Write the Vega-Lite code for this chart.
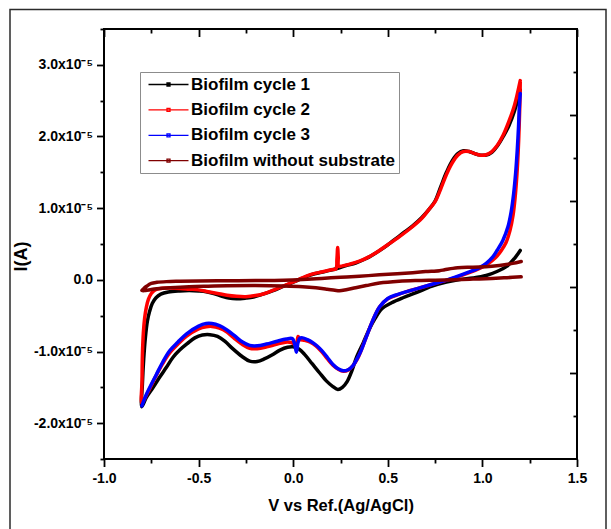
{
  "$schema": "https://vega.github.io/schema/vega-lite/v6.json",
  "width": 473,
  "height": 430,
  "autosize": {"type": "none"},
  "padding": {"left": 104, "top": 29, "right": 34, "bottom": 70},
  "background": "#ffffff",
  "data": {
    "values": [
      {"series": "Biofilm cycle 1", "V": 1.2, "I": 0.41e-5},
      {"series": "Biofilm cycle 1", "V": 1.17, "I": 0.30e-5},
      {"series": "Biofilm cycle 1", "V": 1.13, "I": 0.19e-5},
      {"series": "Biofilm cycle 1", "V": 1.08, "I": 0.12e-5},
      {"series": "Biofilm cycle 1", "V": 1.02, "I": 0.06e-5},
      {"series": "Biofilm cycle 1", "V": 0.95, "I": 0.025e-5},
      {"series": "Biofilm cycle 1", "V": 0.88, "I": 0.005e-5},
      {"series": "Biofilm cycle 1", "V": 0.81, "I": -0.03e-5},
      {"series": "Biofilm cycle 1", "V": 0.73, "I": -0.09e-5},
      {"series": "Biofilm cycle 1", "V": 0.65, "I": -0.18e-5},
      {"series": "Biofilm cycle 1", "V": 0.58, "I": -0.25e-5},
      {"series": "Biofilm cycle 1", "V": 0.52, "I": -0.32e-5},
      {"series": "Biofilm cycle 1", "V": 0.47, "I": -0.40e-5},
      {"series": "Biofilm cycle 1", "V": 0.43, "I": -0.55e-5},
      {"series": "Biofilm cycle 1", "V": 0.40, "I": -0.70e-5},
      {"series": "Biofilm cycle 1", "V": 0.37, "I": -0.88e-5},
      {"series": "Biofilm cycle 1", "V": 0.335, "I": -1.08e-5},
      {"series": "Biofilm cycle 1", "V": 0.31, "I": -1.27e-5},
      {"series": "Biofilm cycle 1", "V": 0.285, "I": -1.42e-5},
      {"series": "Biofilm cycle 1", "V": 0.26, "I": -1.50e-5},
      {"series": "Biofilm cycle 1", "V": 0.236, "I": -1.53e-5},
      {"series": "Biofilm cycle 1", "V": 0.21, "I": -1.49e-5},
      {"series": "Biofilm cycle 1", "V": 0.175, "I": -1.41e-5},
      {"series": "Biofilm cycle 1", "V": 0.14, "I": -1.30e-5},
      {"series": "Biofilm cycle 1", "V": 0.10, "I": -1.17e-5},
      {"series": "Biofilm cycle 1", "V": 0.06, "I": -1.04e-5},
      {"series": "Biofilm cycle 1", "V": 0.03, "I": -0.965e-5},
      {"series": "Biofilm cycle 1", "V": 0.0, "I": -0.935e-5},
      {"series": "Biofilm cycle 1", "V": -0.03, "I": -0.94e-5},
      {"series": "Biofilm cycle 1", "V": -0.07, "I": -0.98e-5},
      {"series": "Biofilm cycle 1", "V": -0.11, "I": -1.045e-5},
      {"series": "Biofilm cycle 1", "V": -0.15, "I": -1.10e-5},
      {"series": "Biofilm cycle 1", "V": -0.19, "I": -1.14e-5},
      {"series": "Biofilm cycle 1", "V": -0.23, "I": -1.135e-5},
      {"series": "Biofilm cycle 1", "V": -0.27, "I": -1.07e-5},
      {"series": "Biofilm cycle 1", "V": -0.32, "I": -0.96e-5},
      {"series": "Biofilm cycle 1", "V": -0.36, "I": -0.86e-5},
      {"series": "Biofilm cycle 1", "V": -0.40, "I": -0.79e-5},
      {"series": "Biofilm cycle 1", "V": -0.44, "I": -0.765e-5},
      {"series": "Biofilm cycle 1", "V": -0.48, "I": -0.77e-5},
      {"series": "Biofilm cycle 1", "V": -0.52, "I": -0.81e-5},
      {"series": "Biofilm cycle 1", "V": -0.56, "I": -0.89e-5},
      {"series": "Biofilm cycle 1", "V": -0.60, "I": -0.98e-5},
      {"series": "Biofilm cycle 1", "V": -0.635, "I": -1.08e-5},
      {"series": "Biofilm cycle 1", "V": -0.67, "I": -1.22e-5},
      {"series": "Biofilm cycle 1", "V": -0.706, "I": -1.36e-5},
      {"series": "Biofilm cycle 1", "V": -0.74, "I": -1.50e-5},
      {"series": "Biofilm cycle 1", "V": -0.776, "I": -1.64e-5},
      {"series": "Biofilm cycle 1", "V": -0.80, "I": -1.77e-5},
      {"series": "Biofilm cycle 1", "V": -0.797, "I": -1.45e-5},
      {"series": "Biofilm cycle 1", "V": -0.79, "I": -1.10e-5},
      {"series": "Biofilm cycle 1", "V": -0.781, "I": -0.80e-5},
      {"series": "Biofilm cycle 1", "V": -0.771, "I": -0.58e-5},
      {"series": "Biofilm cycle 1", "V": -0.759, "I": -0.44e-5},
      {"series": "Biofilm cycle 1", "V": -0.745, "I": -0.33e-5},
      {"series": "Biofilm cycle 1", "V": -0.725, "I": -0.25e-5},
      {"series": "Biofilm cycle 1", "V": -0.70, "I": -0.20e-5},
      {"series": "Biofilm cycle 1", "V": -0.66, "I": -0.17e-5},
      {"series": "Biofilm cycle 1", "V": -0.60, "I": -0.155e-5},
      {"series": "Biofilm cycle 1", "V": -0.55, "I": -0.15e-5},
      {"series": "Biofilm cycle 1", "V": -0.50, "I": -0.155e-5},
      {"series": "Biofilm cycle 1", "V": -0.46, "I": -0.165e-5},
      {"series": "Biofilm cycle 1", "V": -0.42, "I": -0.19e-5},
      {"series": "Biofilm cycle 1", "V": -0.38, "I": -0.225e-5},
      {"series": "Biofilm cycle 1", "V": -0.34, "I": -0.255e-5},
      {"series": "Biofilm cycle 1", "V": -0.30, "I": -0.265e-5},
      {"series": "Biofilm cycle 1", "V": -0.25, "I": -0.255e-5},
      {"series": "Biofilm cycle 1", "V": -0.21, "I": -0.24e-5},
      {"series": "Biofilm cycle 1", "V": -0.16, "I": -0.20e-5},
      {"series": "Biofilm cycle 1", "V": -0.11, "I": -0.155e-5},
      {"series": "Biofilm cycle 1", "V": -0.06, "I": -0.10e-5},
      {"series": "Biofilm cycle 1", "V": -0.02, "I": -0.055e-5},
      {"series": "Biofilm cycle 1", "V": 0.02, "I": -0.01e-5},
      {"series": "Biofilm cycle 1", "V": 0.06, "I": 0.035e-5},
      {"series": "Biofilm cycle 1", "V": 0.10, "I": 0.075e-5},
      {"series": "Biofilm cycle 1", "V": 0.15, "I": 0.105e-5},
      {"series": "Biofilm cycle 1", "V": 0.20, "I": 0.135e-5},
      {"series": "Biofilm cycle 1", "V": 0.24, "I": 0.165e-5},
      {"series": "Biofilm cycle 1", "V": 0.28, "I": 0.20e-5},
      {"series": "Biofilm cycle 1", "V": 0.33, "I": 0.235e-5},
      {"series": "Biofilm cycle 1", "V": 0.38, "I": 0.29e-5},
      {"series": "Biofilm cycle 1", "V": 0.43, "I": 0.365e-5},
      {"series": "Biofilm cycle 1", "V": 0.48, "I": 0.45e-5},
      {"series": "Biofilm cycle 1", "V": 0.53, "I": 0.55e-5},
      {"series": "Biofilm cycle 1", "V": 0.58, "I": 0.65e-5},
      {"series": "Biofilm cycle 1", "V": 0.63, "I": 0.75e-5},
      {"series": "Biofilm cycle 1", "V": 0.68, "I": 0.87e-5},
      {"series": "Biofilm cycle 1", "V": 0.72, "I": 0.99e-5},
      {"series": "Biofilm cycle 1", "V": 0.75, "I": 1.10e-5},
      {"series": "Biofilm cycle 1", "V": 0.78, "I": 1.30e-5},
      {"series": "Biofilm cycle 1", "V": 0.81, "I": 1.50e-5},
      {"series": "Biofilm cycle 1", "V": 0.84, "I": 1.66e-5},
      {"series": "Biofilm cycle 1", "V": 0.87, "I": 1.76e-5},
      {"series": "Biofilm cycle 1", "V": 0.90, "I": 1.80e-5},
      {"series": "Biofilm cycle 1", "V": 0.93, "I": 1.79e-5},
      {"series": "Biofilm cycle 1", "V": 0.96, "I": 1.76e-5},
      {"series": "Biofilm cycle 1", "V": 0.99, "I": 1.74e-5},
      {"series": "Biofilm cycle 1", "V": 1.02, "I": 1.74e-5},
      {"series": "Biofilm cycle 1", "V": 1.05, "I": 1.78e-5},
      {"series": "Biofilm cycle 1", "V": 1.08, "I": 1.87e-5},
      {"series": "Biofilm cycle 1", "V": 1.11, "I": 2.00e-5},
      {"series": "Biofilm cycle 1", "V": 1.14, "I": 2.15e-5},
      {"series": "Biofilm cycle 1", "V": 1.17, "I": 2.36e-5},
      {"series": "Biofilm cycle 1", "V": 1.20, "I": 2.65e-5},

      {"series": "Biofilm cycle 2", "V": 1.2, "I": 2.76e-5},
      {"series": "Biofilm cycle 2", "V": 1.198, "I": 2.45e-5},
      {"series": "Biofilm cycle 2", "V": 1.194, "I": 2.12e-5},
      {"series": "Biofilm cycle 2", "V": 1.189, "I": 1.78e-5},
      {"series": "Biofilm cycle 2", "V": 1.182, "I": 1.45e-5},
      {"series": "Biofilm cycle 2", "V": 1.173, "I": 1.15e-5},
      {"series": "Biofilm cycle 2", "V": 1.162, "I": 0.90e-5},
      {"series": "Biofilm cycle 2", "V": 1.146, "I": 0.69e-5},
      {"series": "Biofilm cycle 2", "V": 1.125, "I": 0.52e-5},
      {"series": "Biofilm cycle 2", "V": 1.10, "I": 0.41e-5},
      {"series": "Biofilm cycle 2", "V": 1.07, "I": 0.31e-5},
      {"series": "Biofilm cycle 2", "V": 1.03, "I": 0.225e-5},
      {"series": "Biofilm cycle 2", "V": 0.985, "I": 0.16e-5},
      {"series": "Biofilm cycle 2", "V": 0.92, "I": 0.09e-5},
      {"series": "Biofilm cycle 2", "V": 0.86, "I": 0.035e-5},
      {"series": "Biofilm cycle 2", "V": 0.80, "I": -0.015e-5},
      {"series": "Biofilm cycle 2", "V": 0.73, "I": -0.065e-5},
      {"series": "Biofilm cycle 2", "V": 0.66, "I": -0.12e-5},
      {"series": "Biofilm cycle 2", "V": 0.60, "I": -0.165e-5},
      {"series": "Biofilm cycle 2", "V": 0.55, "I": -0.21e-5},
      {"series": "Biofilm cycle 2", "V": 0.50, "I": -0.265e-5},
      {"series": "Biofilm cycle 2", "V": 0.456, "I": -0.38e-5},
      {"series": "Biofilm cycle 2", "V": 0.42, "I": -0.57e-5},
      {"series": "Biofilm cycle 2", "V": 0.386, "I": -0.80e-5},
      {"series": "Biofilm cycle 2", "V": 0.36, "I": -0.98e-5},
      {"series": "Biofilm cycle 2", "V": 0.34, "I": -1.10e-5},
      {"series": "Biofilm cycle 2", "V": 0.315, "I": -1.20e-5},
      {"series": "Biofilm cycle 2", "V": 0.29, "I": -1.26e-5},
      {"series": "Biofilm cycle 2", "V": 0.265, "I": -1.275e-5},
      {"series": "Biofilm cycle 2", "V": 0.24, "I": -1.25e-5},
      {"series": "Biofilm cycle 2", "V": 0.21, "I": -1.19e-5},
      {"series": "Biofilm cycle 2", "V": 0.18, "I": -1.10e-5},
      {"series": "Biofilm cycle 2", "V": 0.15, "I": -1.00e-5},
      {"series": "Biofilm cycle 2", "V": 0.12, "I": -0.92e-5},
      {"series": "Biofilm cycle 2", "V": 0.09, "I": -0.87e-5},
      {"series": "Biofilm cycle 2", "V": 0.06, "I": -0.845e-5},
      {"series": "Biofilm cycle 2", "V": 0.035, "I": -0.83e-5},
      {"series": "Biofilm cycle 2", "V": 0.026, "I": -0.79e-5},
      {"series": "Biofilm cycle 2", "V": 0.02, "I": -0.86e-5},
      {"series": "Biofilm cycle 2", "V": 0.01, "I": -0.90e-5},
      {"series": "Biofilm cycle 2", "V": -0.01, "I": -0.875e-5},
      {"series": "Biofilm cycle 2", "V": -0.04, "I": -0.87e-5},
      {"series": "Biofilm cycle 2", "V": -0.09, "I": -0.90e-5},
      {"series": "Biofilm cycle 2", "V": -0.14, "I": -0.935e-5},
      {"series": "Biofilm cycle 2", "V": -0.19, "I": -0.96e-5},
      {"series": "Biofilm cycle 2", "V": -0.23, "I": -0.955e-5},
      {"series": "Biofilm cycle 2", "V": -0.27, "I": -0.90e-5},
      {"series": "Biofilm cycle 2", "V": -0.31, "I": -0.82e-5},
      {"series": "Biofilm cycle 2", "V": -0.35, "I": -0.73e-5},
      {"series": "Biofilm cycle 2", "V": -0.39, "I": -0.675e-5},
      {"series": "Biofilm cycle 2", "V": -0.43, "I": -0.65e-5},
      {"series": "Biofilm cycle 2", "V": -0.46, "I": -0.655e-5},
      {"series": "Biofilm cycle 2", "V": -0.50, "I": -0.685e-5},
      {"series": "Biofilm cycle 2", "V": -0.565, "I": -0.79e-5},
      {"series": "Biofilm cycle 2", "V": -0.61, "I": -0.90e-5},
      {"series": "Biofilm cycle 2", "V": -0.653, "I": -1.02e-5},
      {"series": "Biofilm cycle 2", "V": -0.69, "I": -1.17e-5},
      {"series": "Biofilm cycle 2", "V": -0.723, "I": -1.33e-5},
      {"series": "Biofilm cycle 2", "V": -0.776, "I": -1.61e-5},
      {"series": "Biofilm cycle 2", "V": -0.80, "I": -1.72e-5},
      {"series": "Biofilm cycle 2", "V": -0.799, "I": -1.40e-5},
      {"series": "Biofilm cycle 2", "V": -0.797, "I": -1.05e-5},
      {"series": "Biofilm cycle 2", "V": -0.792, "I": -0.74e-5},
      {"series": "Biofilm cycle 2", "V": -0.785, "I": -0.53e-5},
      {"series": "Biofilm cycle 2", "V": -0.776, "I": -0.38e-5},
      {"series": "Biofilm cycle 2", "V": -0.765, "I": -0.27e-5},
      {"series": "Biofilm cycle 2", "V": -0.75, "I": -0.19e-5},
      {"series": "Biofilm cycle 2", "V": -0.73, "I": -0.14e-5},
      {"series": "Biofilm cycle 2", "V": -0.70, "I": -0.12e-5},
      {"series": "Biofilm cycle 2", "V": -0.65, "I": -0.115e-5},
      {"series": "Biofilm cycle 2", "V": -0.60, "I": -0.12e-5},
      {"series": "Biofilm cycle 2", "V": -0.55, "I": -0.13e-5},
      {"series": "Biofilm cycle 2", "V": -0.50, "I": -0.14e-5},
      {"series": "Biofilm cycle 2", "V": -0.45, "I": -0.165e-5},
      {"series": "Biofilm cycle 2", "V": -0.40, "I": -0.19e-5},
      {"series": "Biofilm cycle 2", "V": -0.35, "I": -0.215e-5},
      {"series": "Biofilm cycle 2", "V": -0.30, "I": -0.23e-5},
      {"series": "Biofilm cycle 2", "V": -0.25, "I": -0.235e-5},
      {"series": "Biofilm cycle 2", "V": -0.20, "I": -0.22e-5},
      {"series": "Biofilm cycle 2", "V": -0.15, "I": -0.19e-5},
      {"series": "Biofilm cycle 2", "V": -0.10, "I": -0.14e-5},
      {"series": "Biofilm cycle 2", "V": -0.05, "I": -0.085e-5},
      {"series": "Biofilm cycle 2", "V": 0.0, "I": -0.03e-5},
      {"series": "Biofilm cycle 2", "V": 0.05, "I": 0.03e-5},
      {"series": "Biofilm cycle 2", "V": 0.10, "I": 0.08e-5},
      {"series": "Biofilm cycle 2", "V": 0.15, "I": 0.11e-5},
      {"series": "Biofilm cycle 2", "V": 0.20, "I": 0.14e-5},
      {"series": "Biofilm cycle 2", "V": 0.226, "I": 0.155e-5},
      {"series": "Biofilm cycle 2", "V": 0.231, "I": 0.28e-5},
      {"series": "Biofilm cycle 2", "V": 0.235, "I": 0.45e-5},
      {"series": "Biofilm cycle 2", "V": 0.238, "I": 0.32e-5},
      {"series": "Biofilm cycle 2", "V": 0.241, "I": 0.19e-5},
      {"series": "Biofilm cycle 2", "V": 0.26, "I": 0.195e-5},
      {"series": "Biofilm cycle 2", "V": 0.30, "I": 0.22e-5},
      {"series": "Biofilm cycle 2", "V": 0.35, "I": 0.26e-5},
      {"series": "Biofilm cycle 2", "V": 0.40, "I": 0.32e-5},
      {"series": "Biofilm cycle 2", "V": 0.45, "I": 0.40e-5},
      {"series": "Biofilm cycle 2", "V": 0.50, "I": 0.49e-5},
      {"series": "Biofilm cycle 2", "V": 0.56, "I": 0.60e-5},
      {"series": "Biofilm cycle 2", "V": 0.62, "I": 0.72e-5},
      {"series": "Biofilm cycle 2", "V": 0.68, "I": 0.86e-5},
      {"series": "Biofilm cycle 2", "V": 0.72, "I": 0.99e-5},
      {"series": "Biofilm cycle 2", "V": 0.75, "I": 1.09e-5},
      {"series": "Biofilm cycle 2", "V": 0.78, "I": 1.27e-5},
      {"series": "Biofilm cycle 2", "V": 0.81, "I": 1.47e-5},
      {"series": "Biofilm cycle 2", "V": 0.84, "I": 1.63e-5},
      {"series": "Biofilm cycle 2", "V": 0.87, "I": 1.74e-5},
      {"series": "Biofilm cycle 2", "V": 0.90, "I": 1.79e-5},
      {"series": "Biofilm cycle 2", "V": 0.93, "I": 1.79e-5},
      {"series": "Biofilm cycle 2", "V": 0.96, "I": 1.76e-5},
      {"series": "Biofilm cycle 2", "V": 0.99, "I": 1.74e-5},
      {"series": "Biofilm cycle 2", "V": 1.02, "I": 1.745e-5},
      {"series": "Biofilm cycle 2", "V": 1.05, "I": 1.79e-5},
      {"series": "Biofilm cycle 2", "V": 1.08, "I": 1.88e-5},
      {"series": "Biofilm cycle 2", "V": 1.11, "I": 2.02e-5},
      {"series": "Biofilm cycle 2", "V": 1.14, "I": 2.21e-5},
      {"series": "Biofilm cycle 2", "V": 1.17, "I": 2.44e-5},
      {"series": "Biofilm cycle 2", "V": 1.20, "I": 2.78e-5},

      {"series": "Biofilm cycle 3", "V": 1.2, "I": 2.60e-5},
      {"series": "Biofilm cycle 3", "V": 1.196, "I": 2.45e-5},
      {"series": "Biofilm cycle 3", "V": 1.191, "I": 2.14e-5},
      {"series": "Biofilm cycle 3", "V": 1.184, "I": 1.80e-5},
      {"series": "Biofilm cycle 3", "V": 1.176, "I": 1.50e-5},
      {"series": "Biofilm cycle 3", "V": 1.165, "I": 1.20e-5},
      {"series": "Biofilm cycle 3", "V": 1.152, "I": 0.95e-5},
      {"series": "Biofilm cycle 3", "V": 1.135, "I": 0.74e-5},
      {"series": "Biofilm cycle 3", "V": 1.108, "I": 0.55e-5},
      {"series": "Biofilm cycle 3", "V": 1.08, "I": 0.42e-5},
      {"series": "Biofilm cycle 3", "V": 1.055, "I": 0.32e-5},
      {"series": "Biofilm cycle 3", "V": 1.02, "I": 0.23e-5},
      {"series": "Biofilm cycle 3", "V": 0.985, "I": 0.17e-5},
      {"series": "Biofilm cycle 3", "V": 0.92, "I": 0.10e-5},
      {"series": "Biofilm cycle 3", "V": 0.86, "I": 0.04e-5},
      {"series": "Biofilm cycle 3", "V": 0.81, "I": -0.005e-5},
      {"series": "Biofilm cycle 3", "V": 0.73, "I": -0.065e-5},
      {"series": "Biofilm cycle 3", "V": 0.66, "I": -0.12e-5},
      {"series": "Biofilm cycle 3", "V": 0.60, "I": -0.165e-5},
      {"series": "Biofilm cycle 3", "V": 0.55, "I": -0.205e-5},
      {"series": "Biofilm cycle 3", "V": 0.50, "I": -0.26e-5},
      {"series": "Biofilm cycle 3", "V": 0.456, "I": -0.38e-5},
      {"series": "Biofilm cycle 3", "V": 0.42, "I": -0.57e-5},
      {"series": "Biofilm cycle 3", "V": 0.386, "I": -0.80e-5},
      {"series": "Biofilm cycle 3", "V": 0.36, "I": -0.98e-5},
      {"series": "Biofilm cycle 3", "V": 0.34, "I": -1.09e-5},
      {"series": "Biofilm cycle 3", "V": 0.315, "I": -1.20e-5},
      {"series": "Biofilm cycle 3", "V": 0.29, "I": -1.255e-5},
      {"series": "Biofilm cycle 3", "V": 0.265, "I": -1.27e-5},
      {"series": "Biofilm cycle 3", "V": 0.24, "I": -1.245e-5},
      {"series": "Biofilm cycle 3", "V": 0.21, "I": -1.18e-5},
      {"series": "Biofilm cycle 3", "V": 0.18, "I": -1.08e-5},
      {"series": "Biofilm cycle 3", "V": 0.15, "I": -0.985e-5},
      {"series": "Biofilm cycle 3", "V": 0.125, "I": -0.92e-5},
      {"series": "Biofilm cycle 3", "V": 0.10, "I": -0.87e-5},
      {"series": "Biofilm cycle 3", "V": 0.075, "I": -0.835e-5},
      {"series": "Biofilm cycle 3", "V": 0.05, "I": -0.81e-5},
      {"series": "Biofilm cycle 3", "V": 0.035, "I": -0.815e-5},
      {"series": "Biofilm cycle 3", "V": 0.025, "I": -0.88e-5},
      {"series": "Biofilm cycle 3", "V": 0.017, "I": -1.01e-5},
      {"series": "Biofilm cycle 3", "V": 0.008, "I": -0.90e-5},
      {"series": "Biofilm cycle 3", "V": -0.005, "I": -0.82e-5},
      {"series": "Biofilm cycle 3", "V": -0.036, "I": -0.826e-5},
      {"series": "Biofilm cycle 3", "V": -0.09, "I": -0.86e-5},
      {"series": "Biofilm cycle 3", "V": -0.142, "I": -0.896e-5},
      {"series": "Biofilm cycle 3", "V": -0.19, "I": -0.92e-5},
      {"series": "Biofilm cycle 3", "V": -0.23, "I": -0.915e-5},
      {"series": "Biofilm cycle 3", "V": -0.27, "I": -0.865e-5},
      {"series": "Biofilm cycle 3", "V": -0.31, "I": -0.78e-5},
      {"series": "Biofilm cycle 3", "V": -0.35, "I": -0.70e-5},
      {"series": "Biofilm cycle 3", "V": -0.39, "I": -0.64e-5},
      {"series": "Biofilm cycle 3", "V": -0.43, "I": -0.61e-5},
      {"series": "Biofilm cycle 3", "V": -0.46, "I": -0.61e-5},
      {"series": "Biofilm cycle 3", "V": -0.50, "I": -0.645e-5},
      {"series": "Biofilm cycle 3", "V": -0.565, "I": -0.756e-5},
      {"series": "Biofilm cycle 3", "V": -0.61, "I": -0.87e-5},
      {"series": "Biofilm cycle 3", "V": -0.653, "I": -0.99e-5},
      {"series": "Biofilm cycle 3", "V": -0.69, "I": -1.15e-5},
      {"series": "Biofilm cycle 3", "V": -0.723, "I": -1.32e-5},
      {"series": "Biofilm cycle 3", "V": -0.776, "I": -1.60e-5},
      {"series": "Biofilm cycle 3", "V": -0.80, "I": -1.76e-5},

      {"series": "Biofilm without substrate", "V": 1.205, "I": 0.256e-5},
      {"series": "Biofilm without substrate", "V": 1.16, "I": 0.23e-5},
      {"series": "Biofilm without substrate", "V": 1.126, "I": 0.214e-5},
      {"series": "Biofilm without substrate", "V": 1.05, "I": 0.19e-5},
      {"series": "Biofilm without substrate", "V": 0.985, "I": 0.178e-5},
      {"series": "Biofilm without substrate", "V": 0.92, "I": 0.175e-5},
      {"series": "Biofilm without substrate", "V": 0.87, "I": 0.168e-5},
      {"series": "Biofilm without substrate", "V": 0.844, "I": 0.16e-5},
      {"series": "Biofilm without substrate", "V": 0.80, "I": 0.14e-5},
      {"series": "Biofilm without substrate", "V": 0.773, "I": 0.128e-5},
      {"series": "Biofilm without substrate", "V": 0.70, "I": 0.115e-5},
      {"series": "Biofilm without substrate", "V": 0.632, "I": 0.10e-5},
      {"series": "Biofilm without substrate", "V": 0.55, "I": 0.085e-5},
      {"series": "Biofilm without substrate", "V": 0.456, "I": 0.07e-5},
      {"series": "Biofilm without substrate", "V": 0.35, "I": 0.05e-5},
      {"series": "Biofilm without substrate", "V": 0.25, "I": 0.035e-5},
      {"series": "Biofilm without substrate", "V": 0.15, "I": 0.02e-5},
      {"series": "Biofilm without substrate", "V": 0.05, "I": 0.005e-5},
      {"series": "Biofilm without substrate", "V": -0.05, "I": -0.005e-5},
      {"series": "Biofilm without substrate", "V": -0.2, "I": -0.01e-5},
      {"series": "Biofilm without substrate", "V": -0.35, "I": -0.012e-5},
      {"series": "Biofilm without substrate", "V": -0.5, "I": -0.015e-5},
      {"series": "Biofilm without substrate", "V": -0.6, "I": -0.02e-5},
      {"series": "Biofilm without substrate", "V": -0.67, "I": -0.025e-5},
      {"series": "Biofilm without substrate", "V": -0.72, "I": -0.035e-5},
      {"series": "Biofilm without substrate", "V": -0.75, "I": -0.05e-5},
      {"series": "Biofilm without substrate", "V": -0.775, "I": -0.09e-5},
      {"series": "Biofilm without substrate", "V": -0.793, "I": -0.13e-5},
      {"series": "Biofilm without substrate", "V": -0.80, "I": -0.15e-5},
      {"series": "Biofilm without substrate", "V": -0.78, "I": -0.148e-5},
      {"series": "Biofilm without substrate", "V": -0.75, "I": -0.135e-5},
      {"series": "Biofilm without substrate", "V": -0.72, "I": -0.125e-5},
      {"series": "Biofilm without substrate", "V": -0.65, "I": -0.11e-5},
      {"series": "Biofilm without substrate", "V": -0.55, "I": -0.095e-5},
      {"series": "Biofilm without substrate", "V": -0.45, "I": -0.088e-5},
      {"series": "Biofilm without substrate", "V": -0.35, "I": -0.083e-5},
      {"series": "Biofilm without substrate", "V": -0.2, "I": -0.08e-5},
      {"series": "Biofilm without substrate", "V": -0.05, "I": -0.085e-5},
      {"series": "Biofilm without substrate", "V": 0.05, "I": -0.095e-5},
      {"series": "Biofilm without substrate", "V": 0.12, "I": -0.11e-5},
      {"series": "Biofilm without substrate", "V": 0.18, "I": -0.13e-5},
      {"series": "Biofilm without substrate", "V": 0.22, "I": -0.145e-5},
      {"series": "Biofilm without substrate", "V": 0.245, "I": -0.152e-5},
      {"series": "Biofilm without substrate", "V": 0.28, "I": -0.138e-5},
      {"series": "Biofilm without substrate", "V": 0.33, "I": -0.11e-5},
      {"series": "Biofilm without substrate", "V": 0.386, "I": -0.08e-5},
      {"series": "Biofilm without substrate", "V": 0.456, "I": -0.045e-5},
      {"series": "Biofilm without substrate", "V": 0.56, "I": -0.02e-5},
      {"series": "Biofilm without substrate", "V": 0.65, "I": -0.01e-5},
      {"series": "Biofilm without substrate", "V": 0.75, "I": -0.005e-5},
      {"series": "Biofilm without substrate", "V": 0.85, "I": 0.0},
      {"series": "Biofilm without substrate", "V": 0.95, "I": 0.01e-5},
      {"series": "Biofilm without substrate", "V": 1.05, "I": 0.02e-5},
      {"series": "Biofilm without substrate", "V": 1.13, "I": 0.03e-5},
      {"series": "Biofilm without substrate", "V": 1.205, "I": 0.042e-5}
    ]
  },
  "resolve": {"axis": {"x": "independent", "y": "independent"}},
  "layer": [
    {
      "mark": {"type": "line", "strokeWidth": 3.5, "interpolate": "catmull-rom", "strokeJoin": "round", "strokeCap": "round"},
      "encoding": {
        "x": {
          "field": "V", "type": "quantitative",
          "scale": {"domain": [-1, 1.5], "nice": false, "zero": false},
          "axis": {
            "orient": "bottom",
            "values": [-1, -0.75, -0.5, -0.25, 0, 0.25, 0.5, 0.75, 1, 1.25, 1.5],
            "labelExpr": "abs(datum.value*2-round(datum.value*2))<1e-6 ? format(datum.value,'.1f') : ''",
            "tickSize": {"condition": {"test": "abs(datum.value*2-round(datum.value*2))<1e-6", "value": 7.5}, "value": 4},
            "labelPadding": 5,
            "title": "V vs Ref.(Ag/AgCl)",
            "titlePadding": 12
          }
        },
        "y": {
          "field": "I", "type": "quantitative",
          "scale": {"domain": [-2.5e-5, 3.5e-5], "nice": false, "zero": false},
          "axis": {
            "orient": "left",
            "values": [-2.5e-5, -2e-5, -1.5e-5, -1e-5, -0.5e-5, 0, 0.5e-5, 1e-5, 1.5e-5, 2e-5, 2.5e-5, 3e-5, 3.5e-5],
            "labelExpr": "abs(datum.value*1e5-round(datum.value*1e5))<1e-6 ? (abs(datum.value)<1e-12 ? '0.0' : format(datum.value*1e5,'.1f') + 'x10⁻⁵') : ''",
            "tickSize": {"condition": {"test": "abs(datum.value*1e5-round(datum.value*1e5))<1e-6", "value": 7.5}, "value": 4},
            "labelPadding": 4,
            "title": "I(A)",
            "titleFontSize": 18,
            "titleAngle": -90,
            "titleAlign": "center",
            "titleBaseline": "middle",
            "titleX": -83,
            "titleY": 227
          }
        },
        "color": {
          "field": "series", "type": "nominal",
          "scale": {
            "domain": ["Biofilm cycle 1", "Biofilm cycle 2", "Biofilm cycle 3", "Biofilm without substrate"],
            "range": ["#000000", "#ff0000", "#0000ff", "#800000"]
          },
          "legend": {
            "orient": "none",
            "legendX": 36,
            "legendY": 43,
            "title": null,
            "strokeColor": "#8c8c8c",
            "fillColor": "#ffffff",
            "padding": 4,
            "rowPadding": 7.4,
            "symbolType": "M-4,0H4M-0.3,-0.3H0.3V0.3H-0.3Z",
            "symbolSize": 100,
            "symbolStrokeWidth": 1.3,
            "symbolOffset": 16,
            "labelOffset": 14,
            "labelFont": "Liberation Sans",
            "labelFontWeight": "bold",
            "labelFontSize": 17,
            "labelColor": "#000000",
            "labelLimit": 320
          }
        },
        "order": {"value": null}
      }
    },
    {
      "mark": {"type": "point", "opacity": 0, "filled": true},
      "encoding": {
        "x": {
          "field": "V", "type": "quantitative",
          "scale": {"domain": [-1, 1.5], "nice": false, "zero": false},
          "axis": {
            "orient": "top",
            "values": [-1, -0.75, -0.5, -0.25, 0, 0.25, 0.5, 0.75, 1, 1.25, 1.5],
            "labels": false,
            "title": null,
            "tickSize": {"condition": {"test": "abs(datum.value*2-round(datum.value*2))<1e-6", "value": -7.5}, "value": -4}
          }
        },
        "y": {
          "field": "I", "type": "quantitative",
          "scale": {"domain": [-2.5e-5, 3.5e-5], "nice": false, "zero": false},
          "axis": {
            "orient": "right",
            "values": [2.9e-5, 2.3e-5, 1.7e-5, 1.1e-5, 0.5e-5, -0.1e-5, -0.7e-5, -1.3e-5, -1.9e-5],
            "labels": false,
            "title": null,
            "tickSize": {"condition": {"test": "round((3.5e-5-datum.value)/0.6e-5)%2==0", "value": -7.5}, "value": -4}
          }
        },
        "fill": {
          "field": "V", "type": "quantitative",
          "legend": {
            "orient": "none",
            "legendX": -94,
            "legendY": -19.5,
            "direction": "vertical",
            "title": null,
            "padding": 0,
            "gradientLength": 550,
            "gradientThickness": 596,
            "gradientOpacity": 0,
            "gradientStrokeWidth": 0,
            "labelExpr": "''",
            "labelOffset": 0,
            "labelFontSize": 1,
            "strokeColor": "#2b2b2b",
            "encode": {"legend": {"update": {"strokeWidth": {"value": 1.5}}}}
          }
        }
      }
    }
  ],
  "config": {
    "locale": {"number": {"decimal": ".", "thousands": ",", "grouping": [3], "currency": ["", ""], "minus": "-"}},
    "view": {"stroke": "#000000", "strokeWidth": 2},
    "axis": {
      "domain": false,
      "grid": false,
      "labelFlush": false,
      "labelOverlap": false,
      "tickColor": "#000000",
      "tickWidth": 1.8,
      "labelFont": "Liberation Sans",
      "labelFontWeight": "bold",
      "labelFontSize": 14,
      "labelColor": "#000000",
      "titleFont": "Liberation Sans",
      "titleFontWeight": "bold",
      "titleFontSize": 16.5,
      "titleColor": "#000000"
    }
  }
}
